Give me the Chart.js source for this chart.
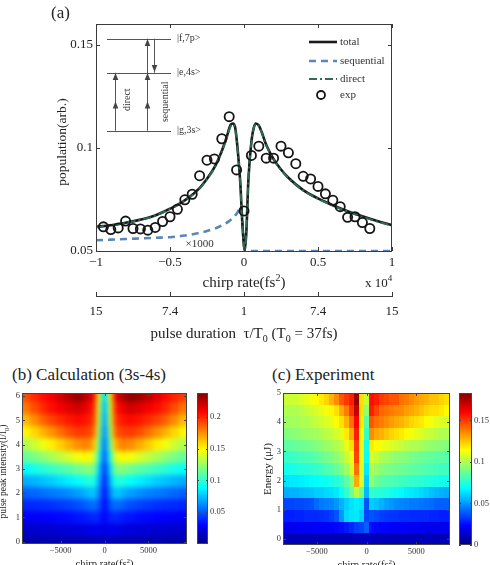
<!DOCTYPE html>
<html>
<head>
<meta charset="utf-8">
<script src="https://cdn.jsdelivr.net/npm/chart.js@4.4.1/dist/chart.umd.min.js"></script>
<style>
  body { margin: 0; background: #fff; width: 490px; height: 565px; overflow: hidden; position: relative; }
  .wrap { position: absolute; }
  .ttl { position: absolute; font-family: 'Liberation Serif', 'Times New Roman', serif; font-size: 17px; color: #222; white-space: nowrap; line-height: 20px; }
</style>
</head>
<body>
<div class="wrap" style="left:0;top:0"><canvas id="chartA" width="490" height="350"></canvas></div>
<div class="ttl" style="left:12px;top:365px">(b) Calculation (3s-4s)</div>
<div class="ttl" style="left:272px;top:365px">(c) Experiment</div>
<div class="wrap" style="left:0;top:385px"><canvas id="chartB" width="245" height="180"></canvas></div>
<div class="wrap" style="left:245px;top:385px"><canvas id="chartC" width="245" height="180"></canvas></div>
<script>
// ---- panel (a) data ----
const chirpTicks = [-1, -0.5, 0, 0.5, 1];
const durationLabels = ['15', '7.4', '1', '7.4', '15'];
const popTicks = [0.05, 0.1, 0.15];

const chirpTotal = [-1, -0.9, -0.8, -0.7, -0.6, -0.5, -0.4, -0.3, -0.25, -0.2, -0.15, -0.12, -0.09, -0.075, -0.06, -0.04, -0.025, -0.01, 0.005, 0.015, 0.03, 0.05, 0.065, 0.08, 0.1, 0.12, 0.15, 0.2, 0.25, 0.3, 0.4, 0.5, 0.6, 0.7, 0.8, 0.9, 1];
const popTotal   = [0.0617, 0.0625, 0.0637, 0.0652, 0.0672, 0.0705, 0.0745, 0.0805, 0.085, 0.0905, 0.0985, 0.1045, 0.1112, 0.1118, 0.110, 0.097, 0.083, 0.062, 0.0505, 0.058, 0.085, 0.103, 0.1095, 0.1118, 0.1108, 0.1075, 0.1015, 0.0945, 0.0895, 0.0855, 0.0795, 0.0755, 0.0722, 0.0693, 0.0668, 0.0645, 0.0625];
const popDirect  = [0.0615, 0.0624, 0.0636, 0.0651, 0.0671, 0.0704, 0.0744, 0.0803, 0.0848, 0.0902, 0.0982, 0.1040, 0.1105, 0.1112, 0.1095, 0.0968, 0.0828, 0.0618, 0.0503, 0.0578, 0.0848, 0.1028, 0.1092, 0.1116, 0.1106, 0.1073, 0.1013, 0.0943, 0.0893, 0.0853, 0.0793, 0.0753, 0.0720, 0.0691, 0.0666, 0.0643, 0.0623];

const chirpSeq = [-1, -0.9, -0.8, -0.7, -0.6, -0.5, -0.4, -0.3, -0.2, -0.15, -0.1, -0.07, -0.05, -0.035, -0.025, -0.015, -0.005, 0.005, 0.02, 0.05, 0.5, 1];
const popSeq   = [0.0552, 0.0555, 0.0558, 0.0561, 0.0564, 0.0567, 0.0575, 0.0588, 0.0608, 0.0624, 0.0645, 0.0663, 0.0681, 0.0698, 0.0712, 0.0685, 0.058, 0.0502, 0.05, 0.05, 0.05, 0.05];

const expChirp = [-0.95, -0.9, -0.85, -0.8, -0.75, -0.7, -0.65, -0.6, -0.55, -0.5, -0.45, -0.4, -0.35, -0.3, -0.25, -0.2, -0.15, -0.1, -0.05, 0, 0.05, 0.1, 0.15, 0.2, 0.25, 0.3, 0.35, 0.4, 0.45, 0.5, 0.55, 0.6, 0.65, 0.7, 0.75, 0.8, 0.85];
const expPop   = [0.0617, 0.0604, 0.0612, 0.0645, 0.0609, 0.0607, 0.0601, 0.0614, 0.0643, 0.0666, 0.0702, 0.0748, 0.0775, 0.0865, 0.094, 0.0946, 0.1044, 0.1151, 0.0893, 0.0694, 0.0963, 0.1008, 0.095, 0.095, 0.1008, 0.0976, 0.0923, 0.0862, 0.0849, 0.0813, 0.0777, 0.0746, 0.0715, 0.0663, 0.0666, 0.0638, 0.0609];

// ---- panel (b) data: calculation, rows bottom -> top ----
const calcChirp = [-9000, -8000, -7000, -6000, -5000, -4000, -3000, -2000, -1500, -1000, -600, -300, 0, 300, 600, 1000, 1500, 2000, 3000, 4000, 5000, 6000, 7000, 8000, 9000];
const calcIntensity = [0, 0.5, 1, 1.5, 2, 2.5, 3, 3.5, 4, 4.5, 5, 5.5, 6];
const calcValues = [
  [.010,.010,.010,.011,.011,.011,.012,.012,.012,.013,.013,.013,.013,.013,.013,.013,.012,.012,.012,.011,.011,.011,.010,.010,.010],
  [.018,.018,.019,.019,.020,.021,.022,.023,.024,.025,.025,.024,.023,.024,.025,.025,.024,.023,.022,.021,.020,.019,.019,.018,.018],
  [.028,.028,.029,.030,.031,.032,.034,.036,.038,.040,.037,.032,.030,.032,.037,.040,.038,.036,.034,.032,.031,.030,.029,.028,.028],
  [.038,.039,.040,.041,.043,.045,.048,.052,.055,.056,.048,.036,.032,.036,.048,.056,.055,.052,.048,.045,.043,.041,.040,.039,.038],
  [.052,.054,.056,.058,.060,.063,.067,.072,.076,.075,.060,.040,.035,.040,.060,.075,.076,.072,.067,.063,.060,.058,.056,.054,.052],
  [.070,.072,.075,.078,.082,.086,.090,.095,.097,.092,.070,.045,.040,.045,.070,.092,.097,.095,.090,.086,.082,.078,.075,.072,.070],
  [.090,.094,.098,.102,.106,.110,.115,.120,.120,.110,.080,.050,.045,.050,.080,.110,.120,.120,.115,.110,.106,.102,.098,.094,.090],
  [.112,.117,.122,.128,.134,.140,.146,.150,.145,.130,.095,.060,.052,.060,.095,.130,.145,.150,.146,.140,.134,.128,.122,.117,.112],
  [.130,.137,.145,.152,.160,.168,.175,.178,.172,.155,.110,.065,.058,.065,.110,.155,.172,.178,.175,.168,.160,.152,.145,.137,.130],
  [.150,.158,.166,.174,.182,.190,.195,.193,.190,.170,.125,.070,.063,.070,.125,.170,.190,.193,.195,.190,.182,.174,.166,.158,.150],
  [.165,.175,.185,.192,.198,.203,.206,.203,.198,.180,.135,.075,.068,.075,.135,.180,.198,.203,.206,.203,.198,.192,.185,.175,.165],
  [.180,.190,.198,.205,.210,.215,.218,.212,.205,.185,.140,.080,.072,.080,.140,.185,.205,.212,.218,.215,.210,.205,.198,.190,.180],
  [.190,.198,.205,.210,.218,.226,.232,.222,.215,.195,.150,.088,.075,.088,.150,.195,.218,.225,.234,.230,.222,.214,.206,.200,.194]
];
const calcTicksX = [-5000, 0, 5000];
const calcTicksY = [0, 1, 2, 3, 4, 5, 6];
const calcBarTicks = [0.05, 0.1, 0.15, 0.2];

// ---- panel (c) data: experiment, rows bottom -> top ----
const expGridChirp = [-8500, -8000, -7500, -7000, -6500, -6000, -5500, -5000, -4500, -4000, -3500, -3000, -2500, -2000, -1500, -1000, -500, 0, 500, 1000, 1500, 2000, 2500, 3000, 3500, 4000, 4500, 5000, 5500, 6000, 6500, 7000, 7500, 8000, 8500];
const expEnergy = [0, 0.4, 0.8, 1.2, 1.6, 2.0, 2.4, 2.8, 3.2, 3.6, 4.0, 4.4, 4.8];
const expValues = [
  [.010,.010,.010,.010,.010,.010,.010,.010,.010,.010,.010,.010,.010,.010,.010,.011,.011,.012,.011,.010,.010,.010,.010,.010,.010,.010,.010,.010,.010,.010,.010,.010,.010,.010,.010],
  [.020,.020,.020,.020,.021,.021,.021,.022,.022,.022,.023,.024,.025,.027,.030,.034,.035,.040,.025,.024,.023,.023,.022,.022,.022,.021,.021,.021,.020,.020,.020,.020,.020,.020,.020],
  [.028,.028,.028,.029,.029,.030,.030,.030,.031,.032,.034,.038,.050,.062,.064,.065,.060,.035,.038,.036,.034,.033,.032,.032,.031,.031,.030,.030,.030,.030,.029,.029,.028,.028,.028],
  [.035,.035,.035,.036,.036,.037,.038,.042,.045,.046,.047,.050,.055,.060,.064,.066,.064,.038,.060,.058,.055,.052,.050,.048,.047,.046,.045,.045,.044,.043,.042,.040,.040,.040,.040],
  [.054,.054,.055,.055,.056,.057,.058,.060,.060,.062,.063,.065,.070,.078,.088,.102,.090,.056,.078,.076,.075,.074,.072,.070,.068,.066,.065,.064,.062,.060,.058,.056,.055,.054,.054],
  [.064,.064,.065,.065,.066,.067,.068,.069,.070,.071,.073,.075,.079,.085,.095,.130,.108,.060,.094,.088,.085,.083,.082,.081,.080,.079,.078,.077,.076,.075,.074,.073,.072,.072,.072],
  [.072,.072,.073,.074,.075,.076,.077,.078,.080,.082,.084,.087,.091,.097,.108,.140,.108,.065,.100,.096,.093,.091,.090,.089,.088,.087,.086,.085,.084,.083,.082,.081,.080,.080,.080],
  [.078,.078,.079,.080,.081,.082,.083,.085,.087,.089,.091,.094,.098,.104,.112,.148,.110,.070,.108,.104,.100,.098,.096,.094,.093,.092,.090,.089,.088,.087,.086,.085,.085,.084,.084],
  [.085,.085,.086,.087,.088,.089,.090,.092,.094,.096,.098,.100,.104,.110,.120,.150,.110,.072,.118,.115,.112,.110,.108,.106,.104,.102,.100,.100,.098,.096,.095,.094,.093,.092,.092],
  [.092,.092,.093,.094,.095,.096,.097,.098,.100,.102,.104,.107,.110,.118,.130,.155,.115,.078,.135,.130,.128,.125,.122,.120,.118,.115,.112,.110,.108,.105,.104,.102,.100,.100,.100],
  [.097,.097,.098,.098,.100,.100,.102,.104,.106,.108,.110,.115,.120,.128,.140,.160,.118,.085,.145,.140,.138,.135,.132,.130,.128,.125,.122,.120,.118,.115,.112,.110,.108,.108,.106],
  [.100,.100,.100,.100,.102,.104,.106,.108,.110,.113,.116,.120,.130,.138,.150,.170,.120,.095,.155,.148,.142,.140,.138,.136,.135,.132,.130,.128,.125,.122,.120,.120,.118,.115,.115],
  [.105,.105,.105,.106,.108,.110,.112,.115,.118,.122,.128,.135,.145,.150,.155,.178,.120,.105,.158,.155,.150,.148,.145,.145,.140,.138,.135,.132,.130,.128,.125,.125,.122,.120,.118]
];
const expTicksX = [-5000, 0, 5000];
const expTicksY = [0, 1, 2, 3, 4, 5];
const expBarTicks = [0, 0.05, 0.1, 0.15];

const FONT = "'Liberation Serif', 'Times New Roman', serif";
Chart.defaults.font.family = FONT;
Chart.defaults.color = '#222';

const minus = v => v < 0 ? '\u2212' + Math.abs(v) : String(v);
const toPts = (xs, ys) => xs.map((x, i) => ({ x: x, y: ys[i] }));

function jet(t) {
  t = Math.max(0, Math.min(1, t));
  const c = v => Math.round(255 * Math.max(0, Math.min(1, v)));
  return 'rgb(' + c(1.5 - Math.abs(4 * t - 3)) + ',' + c(1.5 - Math.abs(4 * t - 2)) + ',' + c(1.5 - Math.abs(4 * t - 1)) + ')';
}

// text with sub/superscripts: parts = [[text, size, dy], ...]
function richText(ctx, parts, x, y, align) {
  let w = 0;
  parts.forEach(p => { ctx.font = p[1] + 'px ' + FONT; w += ctx.measureText(p[0]).width; });
  let cx = align === 'center' ? x - w / 2 : (align === 'right' ? x - w : x);
  ctx.textAlign = 'left';
  ctx.textBaseline = 'alphabetic';
  parts.forEach(p => {
    ctx.font = p[1] + 'px ' + FONT;
    ctx.fillText(p[0], cx, y + (p[2] || 0));
    cx += ctx.measureText(p[0]).width;
  });
}

function arrowHead(ctx, x, y, dir) {
  // tip at (x, y); dir -1 points up, 1 points down
  ctx.beginPath();
  ctx.moveTo(x, y);
  ctx.lineTo(x - 2.8, y - dir * 7);
  ctx.lineTo(x + 2.8, y - dir * 7);
  ctx.closePath();
  ctx.fill();
}

// 1. panel (a): frame, inset level diagram, legend, labels
const panelA = {
  id: 'panelA',
  afterDraw(chart) {
    const { ctx, chartArea: a, scales: { x, y, x2 } } = chart;
    ctx.save();
    ctx.strokeStyle = '#3a3a3a';
    ctx.lineWidth = 1;
    ctx.strokeRect(a.left + 0.5, a.top + 0.5, a.right - a.left - 1, a.bottom - a.top);
    ctx.beginPath();
    chirpTicks.forEach(v => {
      const px = Math.round(x.getPixelForValue(v)) + 0.5;
      ctx.moveTo(px, a.bottom); ctx.lineTo(px, a.bottom - 4);
      ctx.moveTo(px, a.top); ctx.lineTo(px, a.top + 4);
      ctx.moveTo(px, x2.top); ctx.lineTo(px, x2.top - 4);
    });
    popTicks.forEach(v => {
      const py = Math.round(y.getPixelForValue(v)) + 0.5;
      ctx.moveTo(a.left, py); ctx.lineTo(a.left + 4, py);
      ctx.moveTo(a.right, py); ctx.lineTo(a.right - 4, py);
    });
    ctx.stroke();

    // inset energy-level sketch, placed in data units
    const X = v => x.getPixelForValue(v), Y = v => y.getPixelForValue(v);
    ctx.strokeStyle = '#555';
    ctx.fillStyle = '#444';
    ctx.beginPath();
    [0.1529, 0.1364, 0.1083].forEach(l => {
      const py = Math.round(Y(l)) + 0.5;
      ctx.moveTo(X(-0.926), py); ctx.lineTo(X(-0.493), py);
    });
    const xd = Math.round(X(-0.872)) + 0.5, xs = Math.round(X(-0.655)) + 0.5, xdn = Math.round(X(-0.608)) + 0.5;
    ctx.moveTo(xd, Y(0.1083)); ctx.lineTo(xd, Y(0.1364));
    ctx.moveTo(xs, Y(0.1083)); ctx.lineTo(xs, Y(0.1529));
    ctx.moveTo(xdn, Y(0.1529)); ctx.lineTo(xdn, Y(0.1364));
    ctx.stroke();
    arrowHead(ctx, xd, Y(0.1225), -1);
    arrowHead(ctx, xd, Y(0.1362), -1);
    arrowHead(ctx, xs, Y(0.1225), -1);
    arrowHead(ctx, xs, Y(0.1362), -1);
    arrowHead(ctx, xs, Y(0.1527), -1);
    arrowHead(ctx, xdn, Y(0.1368), 1);
    ctx.fillStyle = '#333';
    ctx.font = '10px ' + FONT;
    ctx.textAlign = 'left';
    ctx.textBaseline = 'middle';
    ctx.fillText('|f,7p>', X(-0.453), Y(0.1529));
    ctx.fillText('|e,4s>', X(-0.453), Y(0.1364));
    ctx.fillText('|g,3s>', X(-0.453), Y(0.1083));
    [['direct', -0.79, 0.1233], ['sequential', -0.534, 0.1223]].forEach(t => {
      ctx.save();
      ctx.translate(X(t[1]), Y(t[2]));
      ctx.rotate(-Math.PI / 2);
      ctx.textAlign = 'center';
      ctx.fillText(t[0], 0, 0);
      ctx.restore();
    });
    ctx.font = '11px ' + FONT;
    ctx.textAlign = 'center';
    ctx.fillText('\u00d71000', X(-0.3), Y(0.0535));

    // legend
    const ds = l => chart.data.datasets.find(d => d.label === l);
    const lx = a.right - 83, rows = [['total', 18], ['sequential', 37], ['direct', 55], ['exp', 71]];
    ctx.font = '11px ' + FONT;
    ctx.textAlign = 'left';
    rows.forEach(r => {
      const d = ds(r[0]), ly = a.top + r[1];
      ctx.strokeStyle = d.borderColor;
      ctx.lineWidth = d.borderWidth;
      if (r[0] === 'exp') {
        ctx.setLineDash([]);
        ctx.beginPath(); ctx.arc(lx + 12, ly, 4, 0, Math.PI * 2); ctx.stroke();
      } else {
        ctx.setLineDash(d.borderDash || []);
        ctx.beginPath(); ctx.moveTo(lx, ly); ctx.lineTo(lx + 28, ly); ctx.stroke();
      }
      ctx.setLineDash([]);
      ctx.fillStyle = '#333';
      ctx.fillText(r[0], lx + 31, ly);
    });

    // axis titles and labels
    ctx.fillStyle = '#222';
    ctx.font = '17px ' + FONT;
    ctx.textBaseline = 'middle';
    ctx.fillText('(a)', 51, 14);
    ctx.save();
    ctx.translate(62, 142);
    ctx.rotate(-Math.PI / 2);
    ctx.font = '13.5px ' + FONT;
    ctx.textAlign = 'center';
    ctx.fillText('population(arb.)', 0, 0);
    ctx.restore();
    const cx = (a.left + a.right) / 2;
    richText(ctx, [['chirp rate(fs', 15], ['2', 10, -6], [')', 15]], cx, 287, 'center');
    richText(ctx, [['x 10', 13], ['4', 9, -6]], a.right - 27, 287, 'left');
    richText(ctx, [['pulse duration  \u03c4/T', 15], ['0', 10, 4], [' (T', 15], ['0', 10, 4], [' = 37fs)', 15]], cx, 338, 'center');
    ctx.restore();
  }
};

new Chart(document.getElementById('chartA'), {
  type: 'line',
  data: {
    datasets: [
      { label: 'exp', type: 'scatter', data: toPts(expChirp, expPop), showLine: false, pointRadius: 4.6, pointBorderWidth: 1.8, borderWidth: 1.8, borderColor: '#151515', pointBorderColor: '#151515', pointBackgroundColor: 'rgba(0,0,0,0)', backgroundColor: 'rgba(0,0,0,0)', order: 0 },
      { label: 'direct', data: toPts(chirpTotal, popDirect), borderColor: '#2f6d52', borderWidth: 2, borderDash: [8, 3, 2, 3], pointRadius: 0, cubicInterpolationMode: 'monotone', order: 1 },
      { label: 'total', data: toPts(chirpTotal, popTotal), borderColor: '#1a1a1a', borderWidth: 2.6, pointRadius: 0, cubicInterpolationMode: 'monotone', order: 2 },
      { label: 'sequential', data: toPts(chirpSeq, popSeq), borderColor: '#5a86b8', borderWidth: 2.6, borderDash: [7, 5], pointRadius: 0, cubicInterpolationMode: 'monotone', order: 3 }
    ]
  },
  options: {
    responsive: false,
    animation: false,
    layout: { padding: { left: 0, top: 24, right: 98, bottom: 0 } },
    plugins: { legend: { display: false }, tooltip: { enabled: false } },
    scales: {
      x: {
        type: 'linear', min: -1, max: 1, weight: 0,
        afterBuildTicks: s => { s.ticks = chirpTicks.map(v => ({ value: v })); },
        afterFit: s => { s.height = 45; },
        ticks: { callback: v => minus(v), font: { size: 13 }, padding: 4, maxRotation: 0, color: '#222' },
        grid: { display: false, drawTicks: false },
        border: { display: false }
      },
      x2: {
        type: 'linear', position: 'bottom', min: -1, max: 1, weight: 1,
        afterBuildTicks: s => { s.ticks = chirpTicks.map(v => ({ value: v })); },
        afterFit: s => { s.height = 54; },
        ticks: { callback: (v, i) => durationLabels[i], font: { size: 13 }, padding: 8, maxRotation: 0, color: '#222' },
        grid: { display: false, drawTicks: false },
        border: { display: true, color: '#3a3a3a', width: 1 }
      },
      y: {
        type: 'linear', min: 0.05, max: 0.16,
        afterBuildTicks: s => { s.ticks = popTicks.map(v => ({ value: v })); },
        afterFit: s => { s.width = 96; },
        ticks: { callback: v => String(v), font: { size: 13 }, padding: 3, color: '#222' },
        grid: { display: false, drawTicks: false },
        border: { display: false }
      }
    }
  },
  plugins: [panelA]
});

// 2. heatmap panels (b) and (c)
function heatPlugin(cfg) {
  return {
    id: 'heat_' + cfg.name,
    beforeDatasetsDraw(chart) {
      const { ctx, chartArea: a, scales: { x, y, y2 } } = chart;
      const off = document.createElement('canvas');
      off.width = chart.width; off.height = chart.height;
      const oc = off.getContext('2d');
      const span = (arr, i) => [
        i === 0 ? arr[0] - (arr[1] - arr[0]) / 2 : (arr[i - 1] + arr[i]) / 2,
        i === arr.length - 1 ? arr[i] + (arr[i] - arr[i - 1]) / 2 : (arr[i] + arr[i + 1]) / 2
      ];
      cfg.ys.forEach((yv, j) => {
        const [y0, y1] = span(cfg.ys, j);
        let top = y.getPixelForValue(y1), bot = y.getPixelForValue(y0);
        if (j === cfg.ys.length - 1) top = Math.min(top, a.top - 12);
        if (j === 0) bot = Math.max(bot, a.bottom + 12);
        cfg.xs.forEach((xv, i) => {
          const [x0, x1] = span(cfg.xs, i);
          let l = x.getPixelForValue(x0), r = x.getPixelForValue(x1);
          if (i === 0) l = Math.min(l, a.left - 12);
          if (i === cfg.xs.length - 1) r = Math.max(r, a.right + 12);
          oc.fillStyle = jet(cfg.vals[j][i] / y2.max);
          oc.fillRect(Math.round(l), Math.round(top), Math.round(r) - Math.round(l), Math.round(bot) - Math.round(top));
        });
      });
      ctx.save();
      ctx.beginPath();
      ctx.rect(a.left, a.top, a.right - a.left, a.bottom - a.top);
      ctx.clip();
      if (cfg.blur) ctx.filter = 'blur(' + cfg.blur + 'px)';
      ctx.drawImage(off, 0, 0);
      ctx.restore();

      // colorbar
      const cb0 = a.right + cfg.cbOffset;
      const yTop = Math.round(y2.getPixelForValue(y2.max)), yBot = Math.round(y2.getPixelForValue(y2.min));
      for (let py = yTop; py < yBot; py++) {
        ctx.fillStyle = jet(y2.getValueForPixel(py + 0.5) / y2.max);
        ctx.fillRect(cb0, py, cfg.cbWidth, 1);
      }
      ctx.save();
      ctx.strokeStyle = '#444';
      ctx.lineWidth = 1;
      ctx.strokeRect(a.left + 0.5, a.top + 0.5, a.right - a.left - 1, a.bottom - a.top - 1);
      ctx.strokeRect(cb0 + 0.5, yTop + 0.5, cfg.cbWidth - 1, yBot - yTop - 1);
      ctx.beginPath();
      x.ticks.forEach(t => {
        const px = Math.round(x.getPixelForValue(t.value)) + 0.5;
        ctx.moveTo(px, a.bottom); ctx.lineTo(px, a.bottom - 3);
        ctx.moveTo(px, a.top); ctx.lineTo(px, a.top + 3);
      });
      y.ticks.forEach(t => {
        const py = Math.round(y.getPixelForValue(t.value)) + 0.5;
        ctx.moveTo(a.left, py); ctx.lineTo(a.left + 3, py);
        ctx.moveTo(a.right, py); ctx.lineTo(a.right - 3, py);
      });
      y2.ticks.forEach(t => {
        const py = Math.round(y2.getPixelForValue(t.value)) + 0.5;
        ctx.moveTo(cb0, py); ctx.lineTo(cb0 + 2, py);
        ctx.moveTo(cb0 + cfg.cbWidth, py); ctx.lineTo(cb0 + cfg.cbWidth - 2, py);
      });
      ctx.stroke();
      // colorbar tick labels
      ctx.fillStyle = '#333';
      ctx.font = '8.5px ' + FONT;
      ctx.textAlign = 'left';
      ctx.textBaseline = 'middle';
      y2.ticks.forEach(t => {
        ctx.fillText(String(t.value), cb0 + cfg.cbWidth + 2, y2.getPixelForValue(t.value));
      });
      ctx.restore();
    },
    afterDraw(chart) {
      const { ctx, chartArea: a, scales: { x } } = chart;
      ctx.save();
      ctx.fillStyle = '#222';
      ctx.translate(cfg.yTitleX, (a.top + a.bottom) / 2 + cfg.yTitleDy);
      ctx.rotate(-Math.PI / 2);
      richText(ctx, cfg.yTitle, 0, 0, 'center');
      ctx.restore();
      ctx.fillStyle = '#222';
      richText(ctx, [['chirp rate(fs', 10.5], ['2', 7, -4], [')', 10.5]], x.getPixelForValue(0), a.bottom + 23, 'center');
    }
  };
}

function heatChart(id, cfg) {
  return new Chart(document.getElementById(id), {
    type: 'scatter',
    data: { datasets: [{ data: [] }] },
    options: {
      responsive: false,
      animation: false,
      layout: { padding: { left: 0, top: 8, right: 0, bottom: 0 } },
      plugins: { legend: { display: false }, tooltip: { enabled: false } },
      scales: {
        x: {
          type: 'linear', min: cfg.xMin, max: cfg.xMax,
          afterBuildTicks: s => { s.ticks = cfg.xTicks.map(v => ({ value: v })); },
          afterFit: s => { s.height = cfg.xHeight; },
          ticks: { callback: v => minus(v), font: { size: 8.5 }, padding: 2, maxRotation: 0, color: '#333' },
          grid: { display: false, drawTicks: false },
          border: { display: false }
        },
        y: {
          type: 'linear', min: cfg.yMin, max: cfg.yMax,
          afterBuildTicks: s => { s.ticks = cfg.yTicks.map(v => ({ value: v })); },
          afterFit: s => { s.width = cfg.yWidth; },
          ticks: { callback: v => String(v), font: { size: 8.5 }, padding: 2, color: '#333' },
          grid: { display: false, drawTicks: false },
          border: { display: false }
        },
        y2: {
          type: 'linear', position: 'right', min: 0, max: cfg.cMax,
          afterBuildTicks: s => { s.ticks = cfg.cTicks.map(v => ({ value: v })); },
          afterFit: s => { s.width = cfg.cbAxisWidth; },
          ticks: { display: false },
          grid: { display: false, drawTicks: false },
          border: { display: false }
        }
      }
    },
    plugins: [heatPlugin(cfg)]
  });
}

heatChart('chartB', {
  name: 'b', xs: calcChirp, ys: calcIntensity, vals: calcValues, blur: 2.5,
  xMin: -9400, xMax: 9400, yMin: -0.1, yMax: 6.125, cMax: 0.2375,
  xTicks: calcTicksX, yTicks: calcTicksY, cTicks: calcBarTicks,
  xHeight: 21, yWidth: 22, cbAxisWidth: 58, cbOffset: 10, cbWidth: 11,
  yTitleX: 6, yTitleDy: 3,
  yTitle: [['pulse peak intensity(I/I', 9.5], ['0', 6.5, 3], [')', 9.5]]
});

heatChart('chartC', {
  name: 'c', xs: expGridChirp, ys: expEnergy, vals: expValues, blur: 0,
  xMin: -8400, xMax: 8400, yMin: -0.2, yMax: 5.0, cMax: 0.183,
  xTicks: expTicksX, yTicks: expTicksY, cTicks: expBarTicks,
  xHeight: 20, yWidth: 38, cbAxisWidth: 40, cbOffset: 9, cbWidth: 13,
  yTitleX: 26, yTitleDy: 0,
  yTitle: [['Energy (\u03bcJ)', 11]]
});
</script>
</body>
</html>
